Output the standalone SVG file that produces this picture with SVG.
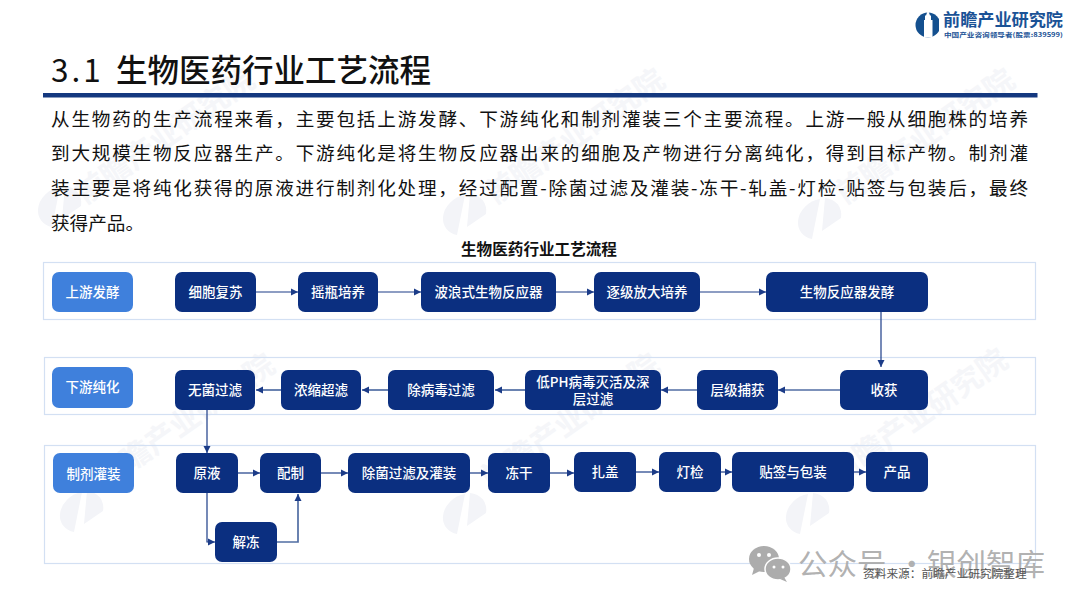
<svg xmlns="http://www.w3.org/2000/svg" width="1080" height="608" viewBox="0 0 1080 608">
<style>
text{font-family:"Noto Sans CJK SC","Liberation Sans",sans-serif}
.band{fill:none;stroke:#d3e0f3;stroke-width:1.200}
.n rect{fill:#0b2f80}
.l rect{fill:#3f80dc}
.n text,.l text{fill:#fff;font-size:13.500px;font-weight:500;text-anchor:middle}
.c{fill:none;stroke:#1c3c88;stroke-width:1.200;marker-end:url(#a)}
.d{stroke:#506da3;stroke-width:1.700}
.wm{fill:#f5f6f9;font-size:30px;font-weight:700}
.wi{fill:#f3f4f8}
.body{font-size:18.600px;fill:#111}
</style>
<defs>
<marker id="a" markerUnits="userSpaceOnUse" markerWidth="8" markerHeight="8" refX="7" refY="4" orient="auto"><path d="M0 .5L7 4L0 7.500z" fill="#1c3c88"/></marker>
<g id="mark"><path class="wi" d="M-22 4a23 19 -35 0 1 22-22L-8 22a23 19 -35 0 1-14-18z"/><path class="wi" d="M5-19a23 19 -35 0 1 16 20L2 14z"/></g>
</defs>
<rect width="1080" height="608" fill="#fff"/>
<g id="watermarks">
<text class="wm" transform="translate(85 205) rotate(-35)">前瞻产业研究院</text>
<text class="wm" transform="translate(495 205) rotate(-35)">前瞻产业研究院</text>
<text class="wm" transform="translate(845 205) rotate(-35)">前瞻产业研究院</text>
<text class="wm" transform="translate(105 490) rotate(-35)">前瞻产业研究院</text>
<text class="wm" transform="translate(490 490) rotate(-35)">前瞻产业研究院</text>
<text class="wm" transform="translate(838 485) rotate(-35)">前瞻产业研究院</text>
<use href="#mark" x="60" y="205"/>
<use href="#mark" x="465" y="213"/>
<use href="#mark" x="820" y="217"/>
<use href="#mark" x="82" y="510"/>
<use href="#mark" x="465" y="512"/>
<use href="#mark" x="808" y="512"/>
</g>
<g id="logo">
<circle cx="928" cy="25" r="12.500" fill="#14508f"/>
<path d="M928 10L930 15.500H931V20H932.500V37.500H924V20H925V15.500H926z" fill="#fff"/>
<rect x="939" y="10" width="3" height="28" fill="#fff"/>
<text x="943" y="26" font-size="17" font-weight="700" fill="#1a5296" textLength="120" lengthAdjust="spacingAndGlyphs">前瞻产业研究院</text>
<text x="944" y="36.500" font-size="6" font-weight="700" fill="#1a5296" textLength="119" lengthAdjust="spacingAndGlyphs">中国产业咨询领导者(股票:839599)</text>
</g>
<text id="title" y="82" font-size="31.500" font-weight="500" fill="#111"><tspan x="51" font-weight="400" letter-spacing="3">3.1</tspan><tspan x="116">生物医药行业工艺流程</tspan></text>
<rect id="rule" x="43" y="93" width="994.500" height="4.500" fill="#14387f"/>
<g id="intro">
<text class="body" x="51" y="126" textLength="977" lengthAdjust="spacing">从生物药的生产流程来看，主要包括上游发酵、下游纯化和制剂灌装三个主要流程。上游一般从细胞株的培养</text>
<text class="body" x="51" y="160" textLength="977" lengthAdjust="spacing">到大规模生物反应器生产。下游纯化是将生物反应器出来的细胞及产物进行分离纯化，得到目标产物。制剂灌</text>
<text class="body" x="51" y="195" textLength="977" lengthAdjust="spacing">装主要是将纯化获得的原液进行制剂化处理，经过配置-除菌过滤及灌装-冻干-轧盖-灯检-贴签与包装后，最终</text>
<text class="body" x="51" y="230">获得产品。</text>
</g>
<text id="chart-title" x="539" y="255" font-size="15.600" font-weight="700" fill="#111" text-anchor="middle">生物医药行业工艺流程</text>
<g id="bands">
<rect class="band" x="43.500" y="262.500" width="992" height="57"/>
<rect class="band" x="44.500" y="357.500" width="991" height="57"/>
<rect class="band" x="44.500" y="445.500" width="991" height="118"/>
</g>
<g id="connectors">
<path class="c" d="M256 292H298"/>
<path class="c" d="M378 292H421"/>
<path class="c" d="M556 292H594"/>
<path class="c" d="M700 292H766"/>
<path class="c" d="M881 312V367"/>
<path class="c d" d="M840 390H778"/>
<path class="c d" d="M697 390H661"/>
<path class="c d" d="M525 390H495"/>
<path class="c d" d="M388 390H362"/>
<path class="c d" d="M281 390H256"/>
<path class="c" d="M207 410V453"/>
<path class="c" d="M238 473H260"/>
<path class="c" d="M321 473H348"/>
<path class="c" d="M470 473H488"/>
<path class="c" d="M550 473H574"/>
<path class="c" d="M636 472H659"/>
<path class="c" d="M721 472H732"/>
<path class="c" d="M854 472H866"/>
<path class="c" d="M207 493V542H215"/>
<path class="c d" d="M277 542H298V494"/>
</g>
<g id="n-upstream" class="l"><rect x="52" y="272" width="81" height="40" rx="7"/><text x="92.500" y="297">上游发酵</text></g>
<g id="n-downstream" class="l"><rect x="52" y="367" width="81" height="41" rx="7"/><text x="92.500" y="392">下游纯化</text></g>
<g id="n-fill" class="l"><rect x="53" y="453" width="81" height="40" rx="7"/><text x="93.500" y="479">制剂灌装</text></g>
<g id="n1" class="n"><rect x="175" y="272" width="81" height="40" rx="7"/><text x="215.500" y="297">细胞复苏</text></g>
<g id="n2" class="n"><rect x="298" y="272" width="80" height="40" rx="7"/><text x="338" y="297">摇瓶培养</text></g>
<g id="n3" class="n"><rect x="421" y="272" width="135" height="40" rx="7"/><text x="488.500" y="297">波浪式生物反应器</text></g>
<g id="n4" class="n"><rect x="594" y="272" width="106" height="40" rx="7"/><text x="647" y="297">逐级放大培养</text></g>
<g id="n5" class="n"><rect x="766" y="272" width="162" height="40" rx="7"/><text x="847" y="297">生物反应器发酵</text></g>
<g id="n6" class="n"><rect x="840" y="370" width="88" height="40" rx="7"/><text x="884" y="395">收获</text></g>
<g id="n7" class="n"><rect x="697" y="370" width="81" height="40" rx="7"/><text x="737.500" y="395">层级捕获</text></g>
<g id="n8" class="n"><rect x="525" y="370" width="136" height="40" rx="7"/><text><tspan x="593" y="386.500">低PH病毒灭活及深</tspan><tspan x="593" y="403.500">层过滤</tspan></text></g>
<g id="n9" class="n"><rect x="388" y="370" width="106" height="40" rx="7"/><text x="441" y="395">除病毒过滤</text></g>
<g id="n10" class="n"><rect x="281" y="370" width="80" height="40" rx="7"/><text x="321" y="395">浓缩超滤</text></g>
<g id="n11" class="n"><rect x="175" y="370" width="80" height="40" rx="7"/><text x="215" y="395">无菌过滤</text></g>
<g id="n12" class="n"><rect x="176" y="453" width="62" height="40" rx="7"/><text x="207" y="478">原液</text></g>
<g id="n13" class="n"><rect x="260" y="453" width="61" height="40" rx="7"/><text x="290.500" y="478">配制</text></g>
<g id="n14" class="n"><rect x="348" y="453" width="122" height="40" rx="7"/><text x="409" y="478">除菌过滤及灌装</text></g>
<g id="n15" class="n"><rect x="488" y="453" width="62" height="40" rx="7"/><text x="519" y="478">冻干</text></g>
<g id="n16" class="n"><rect x="574" y="452" width="62" height="40" rx="7"/><text x="605" y="477">扎盖</text></g>
<g id="n17" class="n"><rect x="659" y="452" width="62" height="40" rx="7"/><text x="690" y="477">灯检</text></g>
<g id="n18" class="n"><rect x="732" y="452" width="122" height="40" rx="7"/><text x="793" y="477">贴签与包装</text></g>
<g id="n19" class="n"><rect x="866" y="452" width="62" height="40" rx="7"/><text x="897" y="477">产品</text></g>
<g id="n20" class="n"><rect x="215" y="522" width="62" height="40" rx="7"/><text x="246" y="547">解冻</text></g>
<g id="wechat" fill="#acacac">
<ellipse cx="764" cy="559" rx="15" ry="13"/><path d="M754 568l-2 7 8-4z"/>
<ellipse cx="778" cy="569" rx="13" ry="11" stroke="#fff" stroke-width="1.500"/><path d="M784 577l3 5-7-3z"/>
<circle cx="759" cy="555" r="2" fill="#fff"/><circle cx="769" cy="555" r="2" fill="#fff"/><circle cx="774" cy="567" r="1.500" fill="#fff"/><circle cx="783" cy="567" r="1.500" fill="#fff"/>
<text y="575" font-size="29.500" fill="#a8a8a8" fill-opacity=".9"><tspan x="798">公众号</tspan><tspan x="897">·</tspan><tspan x="927">银创智库</tspan></text>
</g>
<text id="source" x="863" y="578" font-size="11.700" fill="#555">资料来源：前瞻产业研究院整理</text>
</svg>
